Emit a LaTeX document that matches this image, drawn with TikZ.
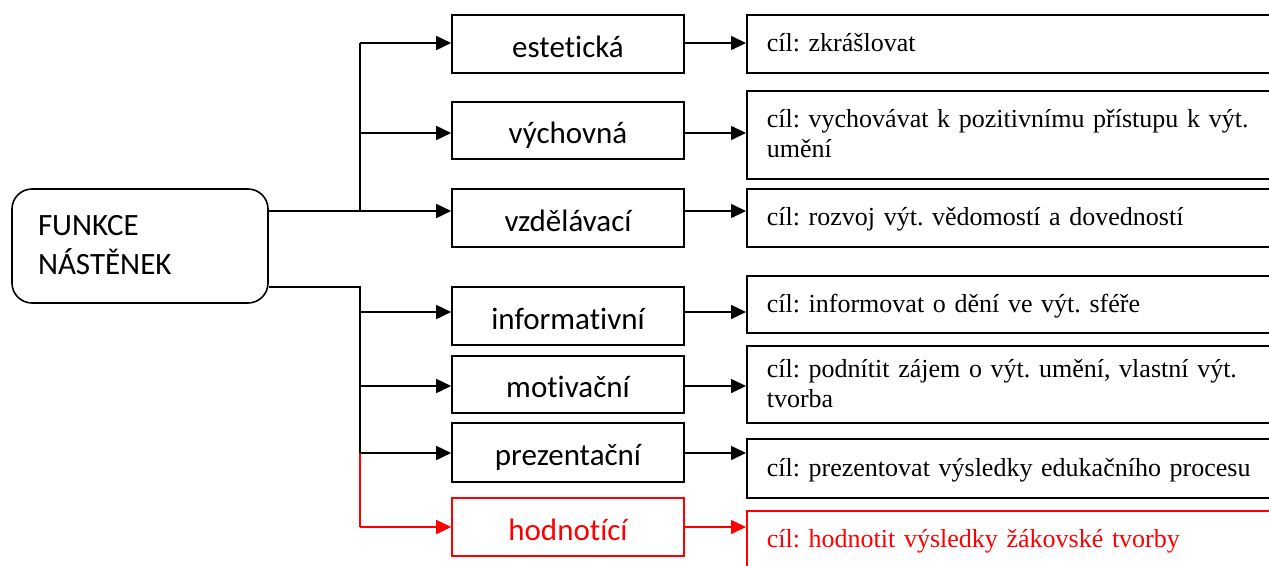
\documentclass[tikz,border=0pt]{standalone}
\usepackage{fontspec}
\setmainfont{Liberation Serif}
\newfontfamily\calfont[Ligatures={NoCommon,NoRequired,NoContextual}]{Carlito}
\usetikzlibrary{arrows.meta}
\definecolor{redc}{RGB}{255,0,0}
\newcommand{\gs}{\rule[-7pt]{0pt}{29pt}}
\newcommand{\ms}{\rule[-10pt]{0pt}{37pt}}
\frenchspacing
\begin{document}
\begin{tikzpicture}[x=1pt,y=-1pt,
  mainbox/.style={draw, line width=1.6pt, rounded corners=20pt, minimum width=256pt, minimum height=114pt, text width=204pt, inner xsep=26pt, inner ysep=0pt, align=left, font=\calfont\fontsize{31}{39}\selectfont},
  fbox/.style={draw, line width=1.6pt, minimum width=232pt, minimum height=58pt, inner sep=0pt, text height=30pt, text depth=4pt, font=\calfont\fontsize{31}{37}\selectfont},
  gbox/.style={draw, line width=1.6pt, anchor=west, minimum width=540pt, text width=500pt, inner xsep=20pt, inner ysep=0pt, align=left, font=\frenchspacing\fontsize{26}{30}\selectfont},
  conn/.style={line width=1.6pt},
  arr/.style={conn, -{Triangle[length=15pt,width=14pt]}},
  hot/.style={draw=redc, text=redc}
]
\useasboundingbox (0,0) rectangle (1269,565);

% main node
\node[mainbox] (main) at (140,246) {\ms FUNKCE\\\ms NÁSTĚNEK};

% function boxes
\node[fbox] (m1) at (568,44) {estetická};
\node[fbox, minimum height=57pt] (m2) at (568,130.5) {výchovná};
\node[fbox] (m3) at (568,218) {vzdělávací};
\node[fbox] (m4) at (568,316) {informativní};
\node[fbox, minimum height=57pt] (m5) at (568,384.5) {motivační};
\node[fbox, minimum height=59pt] (m6) at (568,452.5) {prezentační};
\node[fbox, hot] (m7) at (568,527) {hodnotící};

% goal boxes
\node[gbox, minimum height=58pt] (g1) at (746,44) {\gs cíl: zkrášlovat};
\node[gbox, minimum height=88pt] (g2) at (746,135) {\gs cíl: vychovávat k pozitivnímu přístupu k výt.\\\gs umění};
\node[gbox, minimum height=58pt] (g3) at (746,218) {\gs cíl: rozvoj výt. vědomostí a dovedností};
\node[gbox, minimum height=57pt] (g4) at (746,304.5) {\gs cíl: informovat o dění ve výt. sféře};
\node[gbox, minimum height=77pt] (g5) at (746,384.5) {\gs cíl: podnítit zájem o výt. umění, vlastní výt.\\\gs tvorba};
\node[gbox, minimum height=59pt] (g6) at (746,468.5) {\gs cíl: prezentovat výsledky edukačního procesu};
\node[gbox, hot, minimum height=58pt] (g7) at (746,540) {\gs cíl: hodnotit výsledky žákovské tvorby};

% junction coordinates
\coordinate (j1) at (360,43);
\coordinate (j2) at (360,133);
\coordinate (j3) at (360,211);
\coordinate (k0) at (360,287);
\coordinate (j4) at (360,312);
\coordinate (j5) at (360,386);
\coordinate (j6) at (360,453);
\coordinate (j7) at (360,527);

% upper tree
\draw[arr] (main.east |- j3) -- (m3.west |- j3);
\draw[conn] (j3) -- (j1);
\draw[arr] (j1) -- (m1.west |- j1);
\draw[arr] (j2) -- (m2.west |- j2);

% lower tree
\draw[conn] (main.east |- k0) -- (k0) -- (j6);
\draw[arr] (j4) -- (m4.west |- j4);
\draw[arr] (j5) -- (m5.west |- j5);
\draw[arr] (j6) -- (m6.west |- j6);
\draw[conn, redc] (j6) -- (j7);
\draw[arr, redc] (j7) -- (m7.west |- j7);

% function -> goal
\draw[arr] (m1.east |- j1) -- (g1.west |- j1);
\draw[arr] (m2.east |- j2) -- (g2.west |- j2);
\draw[arr] (m3.east |- j3) -- (g3.west |- j3);
\draw[arr] (m4.east |- j4) -- (g4.west |- j4);
\draw[arr] (m5.east |- j5) -- (g5.west |- j5);
\draw[arr] (m6.east |- j6) -- (g6.west |- j6);
\draw[arr, redc] (m7.east |- j7) -- (g7.west |- j7);
\end{tikzpicture}
\end{document}
